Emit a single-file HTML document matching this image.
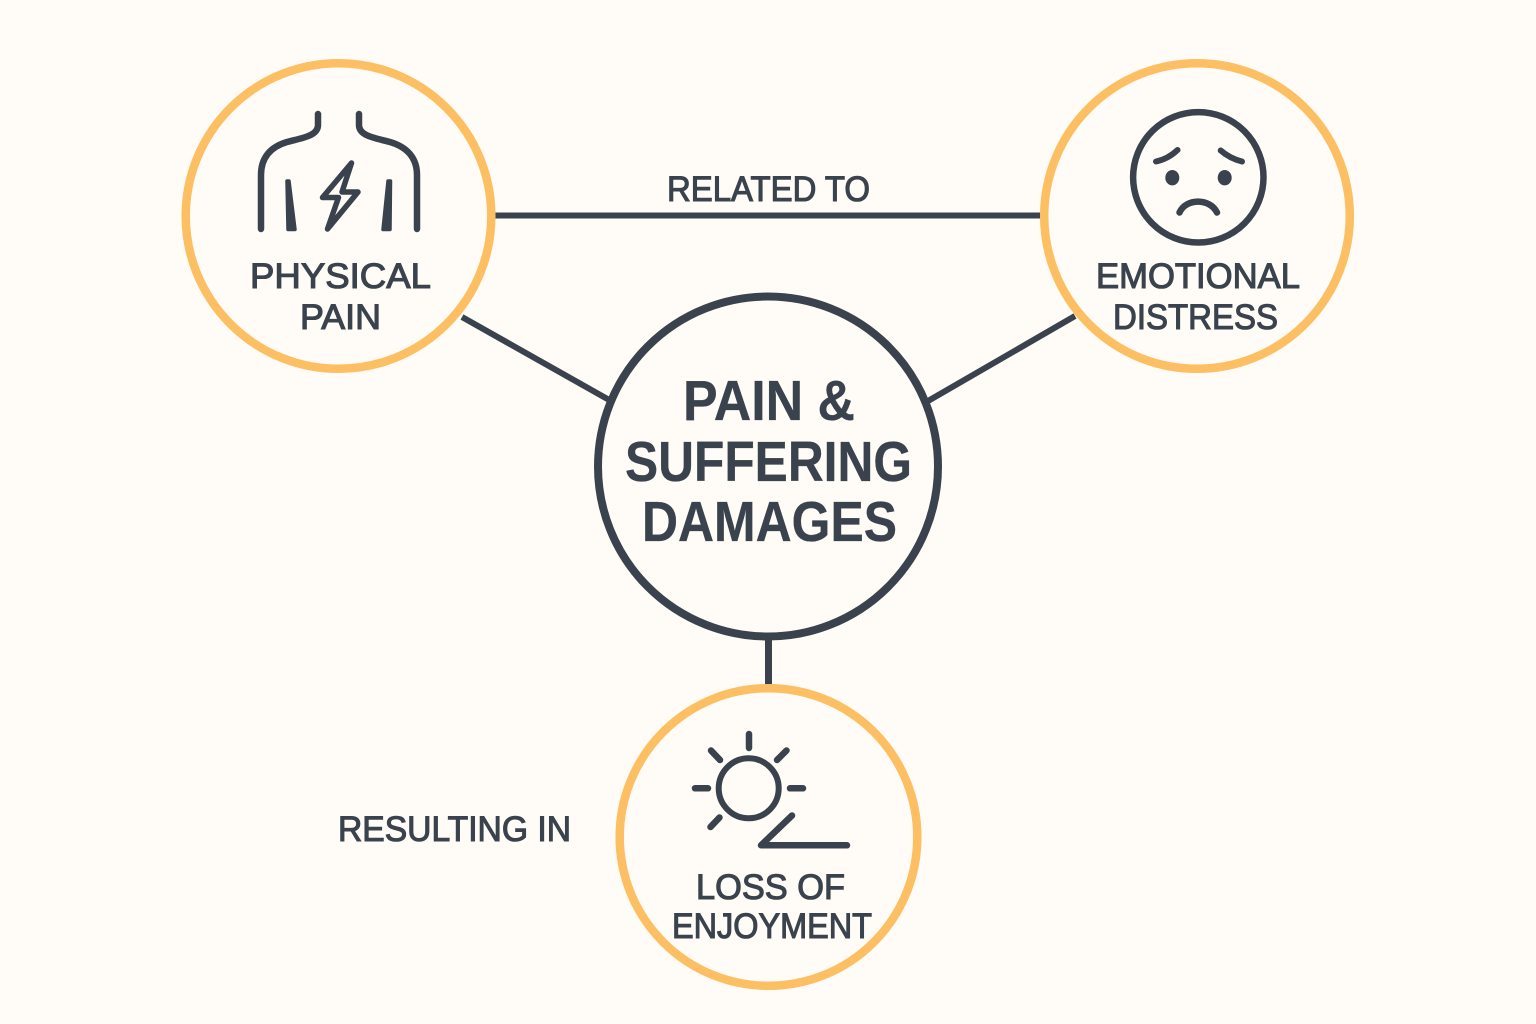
<!DOCTYPE html>
<html><head><meta charset="utf-8"><style>
html,body{margin:0;padding:0;background:#fffcf7}
svg{display:block}
text{font-family:"Liberation Sans",sans-serif;fill:#3a434d;stroke:#3a434d}
.s{font-size:35px;stroke-width:1.1px}
.b{font-size:57px;font-weight:700;stroke-width:.3px}
.i{fill:none;stroke:#3a434d;stroke-linecap:round;stroke-linejoin:round}
</style></head><body>
<svg width="1536" height="1024" viewBox="0 0 1536 1024" xmlns="http://www.w3.org/2000/svg">
<rect width="1536" height="1024" fill="#fffcf7"/>
<g stroke="#3a434d" fill="none">
<line x1="495" y1="215.5" x2="1041" y2="215.5" stroke-width="6"/>
<line x1="462" y1="317" x2="611" y2="401" stroke-width="6"/>
<line x1="1075" y1="316" x2="928" y2="401" stroke-width="6"/>
<line x1="768.5" y1="636" x2="768.5" y2="686" stroke-width="7"/>
</g>
<g fill="#fffcf7" stroke="#fdbf63" stroke-width="8.5">
<circle cx="338.5" cy="216" r="152.8"/>
<circle cx="1197" cy="216" r="152.8"/>
<circle cx="768.5" cy="837" r="148.8"/>
</g>
<circle cx="768" cy="466.5" r="170" fill="#fffcf7" stroke="#3a434d" stroke-width="8"/>

<!-- body icon -->
<g class="i" stroke-width="6.5">
<path d="M318 114V125C318 136 302 138 287 142C270 147 261 158 261 175V229"/>
<path d="M359 114V125C359 136 375 138 390 142C407 147 417 158 417 175V229"/>
</g>
<g fill="#3a434d" stroke="#3a434d" stroke-width="3.5" stroke-linejoin="round">
<polygon points="287,181 289,181 295,229.5 288,229.5"/>
<polygon points="388,181 390.5,181 390,229.5 383,229.5"/>
</g>
<path class="i" stroke-width="5.5" d="M351.5 163L322.5 197.5H338.5L327.5 229L358 192H342Z"/>

<!-- face icon -->
<circle class="i" cx="1198.3" cy="177.3" r="65.2" stroke-width="6.5"/>
<g class="i" stroke-width="6">
<path d="M1156 161.5Q1168 159 1177.5 150"/>
<path d="M1220.7 150.5Q1230 158.5 1242 161.5"/>
<path d="M1179.5 212.5C1186 198 1210 198 1217 212.5" stroke-width="6.5"/>
</g>
<ellipse cx="1172.3" cy="177.7" rx="7" ry="7.7" fill="#3a434d"/>
<ellipse cx="1224.7" cy="177.7" rx="7" ry="7.7" fill="#3a434d"/>

<!-- sun icon -->
<circle class="i" cx="748.7" cy="788.3" r="30" stroke-width="6"/>
<g class="i" stroke-width="6.5">
<line x1="749" y1="734" x2="749" y2="748"/>
<line x1="711" y1="750.5" x2="720" y2="760"/>
<line x1="786.5" y1="750.5" x2="777" y2="760"/>
<line x1="695" y1="788.3" x2="708" y2="788.3"/>
<line x1="790" y1="788.3" x2="803" y2="788.3"/>
<line x1="710.5" y1="827" x2="719.5" y2="817.5"/>
<path d="M792 815.5L761 845.3H847"/>
</g>

<!-- labels -->
<g class="s">
<text x="250" y="288" textLength="181" lengthAdjust="spacingAndGlyphs">PHYSICAL</text>
<text x="300" y="329" textLength="81" lengthAdjust="spacingAndGlyphs">PAIN</text>
<text x="1096" y="288" textLength="204" lengthAdjust="spacingAndGlyphs">EMOTIONAL</text>
<text x="1113" y="329" textLength="165" lengthAdjust="spacingAndGlyphs">DISTRESS</text>
<text x="696" y="899" textLength="149" lengthAdjust="spacingAndGlyphs">LOSS OF</text>
<text x="672" y="938" textLength="200" lengthAdjust="spacingAndGlyphs">ENJOYMENT</text>
<text x="667" y="201" textLength="203" lengthAdjust="spacingAndGlyphs">RELATED TO</text>
<text x="338" y="841" textLength="233" lengthAdjust="spacingAndGlyphs">RESULTING IN</text>
</g>
<g class="b">
<text x="683" y="420" textLength="172" lengthAdjust="spacingAndGlyphs">PAIN &amp;</text>
<text x="625" y="481" textLength="287" lengthAdjust="spacingAndGlyphs">SUFFERING</text>
<text x="642" y="541" textLength="255" lengthAdjust="spacingAndGlyphs">DAMAGES</text>
</g>
</svg>
</body></html>
